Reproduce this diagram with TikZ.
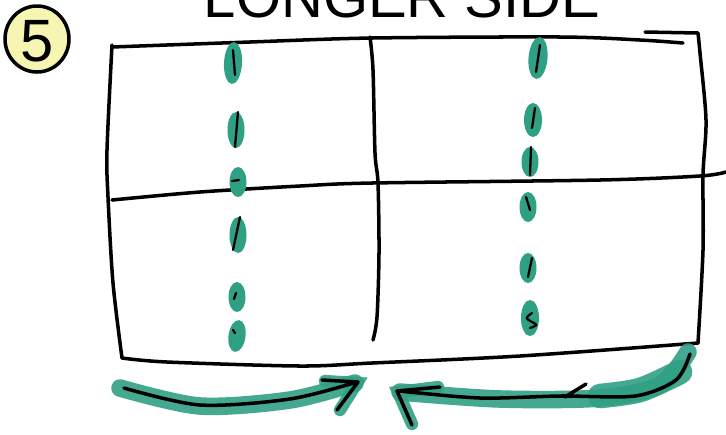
\documentclass[tikz,border=0pt]{standalone}
\usepackage{fontspec}
\setsansfont{Liberation Sans}
\definecolor{marker}{RGB}{48,160,132}
\definecolor{padyellow}{RGB}{246,246,178}
\tikzset{pen/.style={line width=2pt, line cap=round, line join=round},
  band/.style={marker, line width=10pt, line cap=round, opacity=0.9},
  blob/.style={fill=marker}}

\begin{document}
\begin{tikzpicture}[x=0.02cm, y=-0.02cm]
\useasboundingbox[fill=white] (0,0) rectangle (726,434);
% title and number
\node[font=\sffamily\fontsize{33}{33}\selectfont, anchor=base] (title) at (402,17) {LONGER SIDE};
\filldraw[fill=padyellow, pen] (37,39) ellipse (32 and 33);
\node[font=\sffamily\fontsize{34}{34}\selectfont] (num) at (37,41) {5};
% frame
\draw[pen] plot[smooth] coordinates {(112,47) (250,42) (372,38) (560,37) (640,40) (683,43)};
\draw[pen] plot[smooth] coordinates {(645,32) (698,33)}
  plot[smooth] coordinates {(698,33) (700,53) (706,120) (703,175) (703,250) (698,343)};
\draw[pen] plot[smooth] coordinates {(112,45) (107,150) (108,197) (113,283) (122,358)};
\draw[pen] plot[smooth] coordinates {(122,358) (167,362) (300,366) (372,363) (520,356) (698,343)};
\draw[pen] plot[smooth] coordinates {(370,37) (373,70) (375,153) (378,183) (379,253) (377,317) (373,340)};
\draw[pen] plot[smooth] coordinates {(112,200) (200,192) (300,186) (372,183) (600,180) (700,176) (726,172)};
% cut marks, left
\fill[blob, rotate around={-3:(233,63)}] (233,63) ellipse (9 and 21);
\fill[blob] (236,130) ellipse (8.5 and 18);
\fill[blob] (238,182) ellipse (8.5 and 15);
\fill[blob] (238,235) ellipse (8.5 and 18);
\fill[blob] (237,297) ellipse (8.5 and 15);
\fill[blob, rotate around={-8:(237,336)}] (237,336) ellipse (8.5 and 16);
\draw[pen, line width=1.3pt] (233,50) -- (235,75)
  (238,112) -- (235,147)
  (232,181) -- (239,180)
  (240,217) -- (233,250)
  (236,293) -- (234,299)
  (233,330) -- (235,333);
% cut marks, right
\fill[blob, rotate around={-5:(538,58)}] (538,58) ellipse (9.5 and 21);
\fill[blob] (533,120) ellipse (9 and 17);
\fill[blob] (530,162) ellipse (8.5 and 15);
\fill[blob] (528,207) ellipse (8.5 and 15);
\fill[blob] (528,268) ellipse (8.5 and 15);
\fill[blob] (530,318) ellipse (9 and 18);
\draw[pen, line width=1.3pt] (540,45) -- (536,72)
  (535,108) -- (532,128)
  (531,147) -- (530,175)
  (526,197) -- (530,210)
  (532,258) -- (528,277)
  (532,313) .. controls (525,318) .. (532,322) .. controls (538,325) .. (530,328);
% arrows pushing in
\draw[band] plot[smooth] coordinates {(120,388) (200,406) (290,400) (355,383)};
\draw[band, line width=7pt] (325,381) -- (357,383) -- (340,410);
\draw[pen] plot[smooth] coordinates {(124,388) (200,405) (290,399) (357,382)}
  (322,380) -- (358,382) -- (337,410);
\draw[band] plot[smooth] coordinates {(688,352) (660,385) (600,398) (500,399) (400,392)};
\draw[band, line width=14pt] plot[smooth] coordinates {(680,372) (640,390) (600,396)};
\draw[band, line width=7pt] (438,387) -- (398,392) -- (412,424);
\draw[pen] plot[smooth] coordinates {(690,354) (676,380) (635,396) (560,396) (480,398) (400,391)}
  (440,387) -- (397,391) -- (412,425)
  (586,384) -- (565,397);
\end{tikzpicture}
\end{document}
